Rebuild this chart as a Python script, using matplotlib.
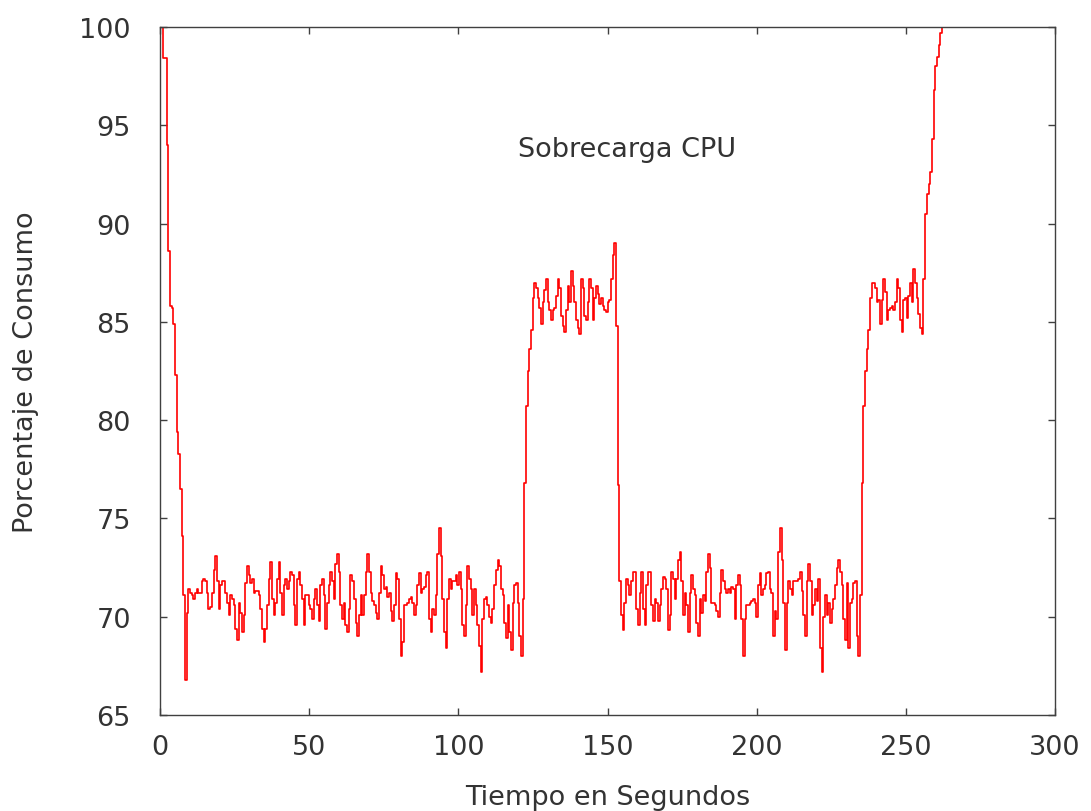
import numpy as np
import matplotlib
matplotlib.use("Agg")
import matplotlib.pyplot as plt

# CPU load (%) sampled every ~0.56 s
dt = 0.56

startup = [100.4, 100.1, 98.4, 98.4, 94.0, 88.6, 85.8, 85.7, 84.9, 82.3,
           79.4, 78.3, 76.5, 74.1, 71.1, 66.8]

idle_1 = [70.2, 71.4, 71.2, 71.1, 70.9, 71.2, 71.4, 71.2, 71.2, 71.8,
          71.9, 71.8, 71.2, 70.4, 70.5, 71.2, 72.4, 73.1, 71.8, 70.4,
          71.6, 71.8, 71.8, 71.2, 70.7, 70.1, 71.1, 70.9, 70.6, 69.4,
          68.8, 70.7, 70.2, 69.2, 70.1, 71.7, 72.6, 72.1, 71.7, 71.9,
          71.2, 71.3, 71.3, 71.1, 70.4, 69.4, 68.7, 69.4, 70.6, 71.9,
          72.8, 70.9, 70.1, 70.7, 71.9, 72.8, 71.2, 70.1, 71.6, 71.9,
          71.4, 71.8, 72.3, 72.1, 70.6, 69.6, 71.9, 72.3, 71.6, 70.9,
          69.6, 71.1, 71.1, 70.6, 70.4, 69.9, 70.9, 71.4, 70.6, 69.8,
          71.6, 71.9, 71.1, 69.4, 70.7, 71.6, 72.3, 71.8, 70.9, 72.7,
          73.2,
          72.3, 70.6, 69.9, 70.7, 69.6, 69.2, 70.4, 72.1, 71.8, 70.9,
          69.7, 69.0, 70.1, 71.1, 70.1, 71.1, 72.3, 73.2, 72.3, 71.2,
          70.8, 70.6, 70.2, 69.9, 71.2, 72.6, 72.1, 71.4, 71.5, 71.0,
          71.2, 70.3, 69.8, 70.6, 72.2, 71.9, 69.9, 68.0, 68.7, 70.6,
          70.6, 70.7, 70.9, 71.0, 70.7, 70.1, 70.6, 71.6, 72.2, 71.2,
          71.4, 71.5, 72.1, 72.3, 69.9, 69.2, 70.4, 70.1, 71.1, 73.2,
          74.5, 73.1, 70.9, 69.2, 68.4, 70.9, 71.9, 71.4, 71.8, 71.8,
          72.1, 71.6, 72.3, 71.4, 69.6, 69.0, 70.6, 72.6, 71.9, 71.4,
          70.1, 71.4, 70.6, 69.6, 68.5, 67.2, 69.9, 70.9, 71.0, 70.6,
          70.0, 69.7, 70.4, 71.6, 72.4, 72.9, 72.6, 71.4, 71.1, 69.7,
          68.9, 70.6,
          69.2, 68.3, 70.7, 71.6, 71.7, 70.7, 69.0, 68.0, 70.9]

rise_1 = [76.8, 80.7, 82.5, 83.6, 84.6, 86.2, 87.0]

load_1 = [86.7, 86.2, 85.7, 84.9, 86.0, 86.6, 87.2, 86.0, 85.6, 85.1,
          85.6, 85.7, 86.3, 87.2, 86.7, 85.3, 84.8, 84.5, 85.6, 86.8,
          86.0, 87.6, 86.8, 86.0, 85.1, 84.7, 84.4, 87.2, 86.7, 85.3,
          85.1, 86.0, 87.2, 86.7, 85.1, 86.2, 86.8, 86.4, 85.9, 86.2,
          85.8, 85.6, 85.5, 86.0, 86.1, 87.2, 88.4, 89.0]

drop_1 = [84.8, 76.7]

idle_2 = [71.8, 70.1, 69.3, 70.7, 71.9, 71.6, 71.1, 71.8, 72.3, 72.3,
          70.4, 69.6, 71.2, 72.3, 70.4, 69.6, 71.6, 72.3, 72.3, 70.6,
          69.8, 70.9, 70.7, 69.8, 70.6, 71.4, 72.0, 71.9, 71.4, 69.3,
          70.1, 72.3, 71.9, 70.9, 71.9, 72.9, 73.3, 71.8, 70.1, 71.2,
          70.6, 69.2, 71.2, 72.1, 71.4, 71.1, 69.7, 69.0, 70.9, 70.2,
          71.1, 70.8, 72.3, 73.2, 72.5, 70.7, 70.7, 70.6, 70.3, 70.0,
          71.2, 72.4, 71.8, 71.4, 71.2, 71.4, 71.2, 71.5, 71.4, 69.9,
          71.6, 72.1, 71.6, 69.9, 68.0, 69.9, 70.6, 70.6, 70.7, 70.8,
          70.9, 70.7, 70.0, 71.6, 72.2, 71.1, 71.4, 71.6, 72.2, 72.3,
          71.4, 71.2, 69.0, 70.3, 69.9, 73.3, 74.5,
          72.9, 70.7, 68.3, 70.7, 71.8, 71.4, 71.1, 71.8, 71.8, 71.8,
          71.9, 72.3, 71.3, 70.1, 69.0, 71.8, 72.7, 71.8, 70.1, 70.6,
          71.4, 70.8, 71.9, 68.4, 67.2, 70.0, 71.1, 70.1, 70.7, 69.7,
          70.4, 70.9, 71.6, 72.5, 72.9, 72.3, 71.6, 69.9, 68.8, 71.7,
          68.4, 70.7, 70.9, 71.7, 71.8, 69.0, 68.0, 71.1]

rise_2 = [76.8, 80.7, 82.5, 83.6, 84.6, 86.2, 87.0]

load_2 = [87.0, 86.7, 86.0, 86.1, 84.9, 86.1, 87.2, 86.5, 85.1, 85.6,
          85.7, 85.8, 85.6, 86.0, 87.2, 86.7, 85.1, 84.5, 86.1, 86.2,
          85.2, 86.3, 87.0, 86.0, 87.7, 87.0, 86.2, 85.4, 84.7, 84.4]

overload = [87.2, 90.5, 91.5, 92.0, 92.6, 94.3, 96.8, 98.0, 98.5, 99.1,
            99.7, 100.5]

cpu = np.concatenate([startup, idle_1, rise_1, load_1, drop_1,
                      idle_2, rise_2, load_2, overload])
t = np.arange(cpu.size) * dt

text_color = "#333333"
frame_color = "#404040"

fig = plt.figure(figsize=(10.91, 8.12), dpi=100)
ax = fig.add_axes([0.1467, 0.1182, 0.8203, 0.8473])

ax.plot(t, cpu, color="red", lw=1.2, drawstyle="steps-post")

ax.set_xlim(0, 300)
ax.set_ylim(65, 100)
ax.set_xticks(np.arange(0, 301, 50))
ax.set_yticks(np.arange(65, 101, 5))

for s in ax.spines.values():
    s.set_color(frame_color)
    s.set_linewidth(1.0)
ax.tick_params(direction="in", length=5, width=1.0, color=frame_color,
               top=True, right=True, labelsize=19.5, labelcolor=text_color)
ax.tick_params(axis="y", pad=21)
ax.tick_params(axis="x", pad=14)

ax.set_xlabel("Tiempo en Segundos", fontsize=19.5, color=text_color, labelpad=17)
ax.set_ylabel("Porcentaje de Consumo", fontsize=19.5, color=text_color, labelpad=29)

ax.text(120, 93.8, "Sobrecarga CPU", fontsize=19.5, color=text_color,
        ha="left", va="center")

fig.savefig("out.png", dpi=100)
